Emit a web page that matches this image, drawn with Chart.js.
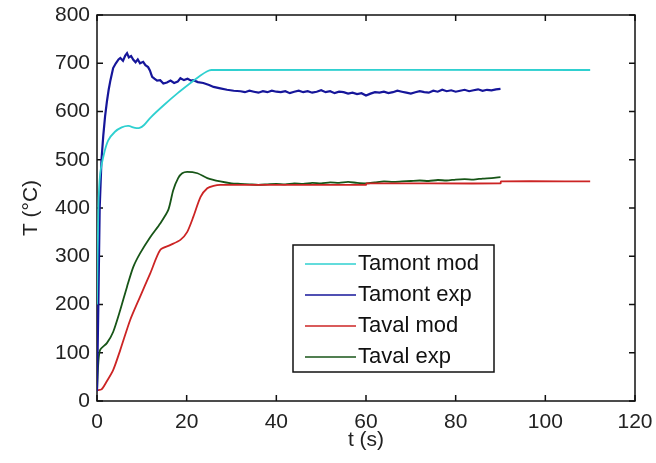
<!DOCTYPE html>
<html>
<head>
<meta charset="utf-8">
<script src="https://cdn.jsdelivr.net/npm/chart.js@4"></script>
<style>
    html, body { margin: 0; padding: 0; background: #fff; }
    #wrap { width: 656px; height: 463px; position: relative; }
</style>
</head>
<body>
<div id="wrap"><canvas id="chart"></canvas></div>
<script>
// Data (t in s, T in °C)
const seriesLabels = ["Tamont mod", "Tamont exp", "Taval mod", "Taval exp"];
const seriesColors = ["#2fd0d0", "#16169a", "#cc2424", "#175517"];

const tAmontMod = [0, 0.3, 0.7, 1.5, 2.5, 4, 5.5, 7, 8.5, 9.5, 10.5, 12, 15, 18, 21, 23, 24.5, 25.5, 110];
const vAmontMod = [200, 400, 470, 510, 540, 558, 567, 570, 566, 566, 572, 588, 614, 638, 660, 674, 683, 686, 686];

const tAmontExp = [0, 0.3, 0.6, 1.0, 1.4, 1.8, 2.2, 2.6, 3.0, 3.6, 4.2, 4.8, 5.2, 5.8, 6.3, 6.7, 7.1, 7.6, 8.1, 8.6,
    9.1, 9.6, 10.3, 10.8, 11.4, 11.8, 12.3, 12.8, 13.4, 14.1, 14.8, 15.6, 16.4, 17.2, 18.0, 18.6, 19.4, 20.2, 21.0, 21.5,
    22.5, 23.7, 25.0, 26.0, 27.5, 29.0, 30.5, 32, 33, 34, 35, 36, 37, 38, 39, 40, 41, 42, 43, 44, 45, 46, 47, 48, 49,
    50, 51, 52, 53, 54, 55, 56, 57, 58, 59, 60, 61, 62, 63, 64, 65, 66, 67, 68, 69, 70, 71, 72, 73, 74, 75, 76, 77, 78,
    79, 80, 81, 82, 83, 84, 85, 86, 87, 88, 89, 90];
const vAmontExp = [20, 200, 400, 500, 550, 590, 620, 645, 665, 690, 700, 708, 711, 705, 716, 721, 712, 715, 707, 702,
    708, 700, 703, 696, 692, 685, 672, 668, 664, 665, 658, 660, 664, 659, 662, 669, 665, 668, 664, 665,
    661, 659, 655, 651, 648, 645, 643, 642, 640, 643, 641, 639, 642, 640, 643, 641, 640, 642, 638, 641, 643, 640, 642, 639, 641,
    644, 640, 642, 638, 641, 640, 637, 639, 636, 638, 633, 637, 640, 639, 641, 638, 640, 643, 641, 639, 637, 640, 642, 640,
    639, 643, 641, 645, 642, 644, 641, 643, 645, 642, 644, 646, 643, 645, 644, 646, 647];

const tAvalMod = [0, 1, 2, 3.6, 5.2, 7.4, 9.6, 11.9, 14.1, 16.3, 18.6, 20.1, 21.5, 23.1, 24.6, 26, 27.5, 60, 60.1, 90, 90.1, 110];
const vAvalMod = [22, 24, 38, 64, 106, 168, 216, 265, 313, 323, 334, 350, 382, 423, 441, 446, 448, 448, 451, 451, 455, 455];

const tAvalExp = [0, 0.3, 0.7, 2.2, 3.6, 5.2, 6.7, 8.1, 9.6, 11.9, 14.1, 15.9, 17, 18.1, 19, 20.1, 22.4, 24.6, 27.5, 30,
    32, 34, 36, 38, 40, 42, 44, 46, 48, 50, 52, 54, 56, 58, 60, 62, 64, 66, 68, 70, 72, 74, 76, 78, 80, 82, 84, 86, 88, 90];
const vAvalExp = [20, 80, 106, 120, 143, 189, 237, 278, 306, 340, 368, 396, 437, 462, 472, 475, 472, 462, 455, 451,
    450, 449, 448, 449, 450, 449, 451, 450, 452, 451, 453, 452, 454, 452, 451, 453, 455, 454, 455, 456, 457, 456, 458, 457, 459, 460, 459, 461, 462, 464];

const xTicks = [0, 20, 40, 60, 80, 100, 120];
const yTicks = [0, 100, 200, 300, 400, 500, 600, 700, 800];

const FONT = "'Liberation Sans', Arial, sans-serif";

function pts(ts, vs) {
    return ts.map((t, i) => ({ x: t, y: vs[i] }));
}

const seriesData = [
    pts(tAmontMod, vAmontMod),
    pts(tAmontExp, vAmontExp),
    pts(tAvalMod, vAvalMod),
    pts(tAvalExp, vAvalExp)
];

// Matlab-like frame with inward ticks on all four sides
const framePlugin = {
    id: 'frame',
    beforeDatasetsDraw(chart) {
        const { ctx, chartArea: a, scales: { x, y } } = chart;
        ctx.save();
        ctx.strokeStyle = '#111';
        ctx.lineWidth = 1.5;
        ctx.strokeRect(a.left, a.top, a.right - a.left, a.bottom - a.top);
        ctx.beginPath();
        const len = 6;
        xTicks.forEach(v => {
            const px = x.getPixelForValue(v);
            ctx.moveTo(px, a.bottom); ctx.lineTo(px, a.bottom - len);
            ctx.moveTo(px, a.top); ctx.lineTo(px, a.top + len);
        });
        yTicks.forEach(v => {
            const py = y.getPixelForValue(v);
            ctx.moveTo(a.left, py); ctx.lineTo(a.left + len, py);
            ctx.moveTo(a.right, py); ctx.lineTo(a.right - len, py);
        });
        ctx.stroke();
        ctx.restore();
    }
};

// boxed legend inside the plot
const legendBox = {
    id: 'legendBox',
    afterDraw(chart) {
        const ctx = chart.ctx;
        const bx = 293, by = 245, bw = 201, bh = 127;
        ctx.save();
        ctx.fillStyle = '#fff';
        ctx.fillRect(bx, by, bw, bh);
        ctx.strokeStyle = '#111';
        ctx.lineWidth = 1.5;
        ctx.strokeRect(bx, by, bw, bh);
        ctx.font = '22px ' + FONT;
        ctx.textBaseline = 'middle';
        chart.data.datasets.forEach((ds, i) => {
            const ry = 264 + i * 31;
            ctx.strokeStyle = ds.borderColor;
            ctx.lineWidth = 1.5;
            ctx.beginPath();
            ctx.moveTo(305, ry); ctx.lineTo(356, ry);
            ctx.stroke();
            ctx.fillStyle = '#111';
            ctx.fillText(ds.label, 358, ry);
        });
        ctx.restore();
    }
};

function noEdgePadding(s) {
    s.paddingTop = 0; s.paddingBottom = 0; s.paddingLeft = 0; s.paddingRight = 0;
}

new Chart(document.getElementById('chart'), {
    type: 'line',
    data: {
        datasets: seriesLabels.map((label, i) => ({
            label: label,
            data: seriesData[i],
            borderColor: seriesColors[i],
            backgroundColor: seriesColors[i],
            borderWidth: i === 1 ? 2.2 : 1.8,
            pointRadius: 0,
            tension: i === 1 ? 0 : 0.25,
            fill: false
        }))
    },
    options: {
        responsive: true,
        maintainAspectRatio: false,
        animation: false,
        layout: { padding: { left: 0, top: 15, right: 21, bottom: 0 } },
        plugins: {
            legend: { display: false },
            tooltip: { enabled: false }
        },
        scales: {
            x: {
                type: 'linear',
                min: 0, max: 120,
                afterFit: s => { s.height = 62; noEdgePadding(s); },
                afterBuildTicks: s => { s.ticks = xTicks.map(v => ({ value: v })); },
                grid: { display: false, drawTicks: false },
                border: { display: false },
                ticks: { color: '#222', font: { family: FONT, size: 21 }, padding: 9, maxRotation: 0 },
                title: { display: true, text: 't (s)', color: '#222', font: { family: FONT, size: 21 }, padding: { top: 0, bottom: 10 } }
            },
            y: {
                min: 0, max: 800,
                afterFit: s => { s.width = 97; noEdgePadding(s); },
                afterBuildTicks: s => { s.ticks = yTicks.map(v => ({ value: v })); },
                grid: { display: false, drawTicks: false },
                border: { display: false },
                ticks: { color: '#222', font: { family: FONT, size: 21 }, padding: 7 },
                title: { display: true, text: 'T (°C)', color: '#222', font: { family: FONT, size: 21 }, padding: { top: 19, bottom: 0 } }
            }
        }
    },
    plugins: [framePlugin, legendBox]
});
</script>
</body>
</html>
